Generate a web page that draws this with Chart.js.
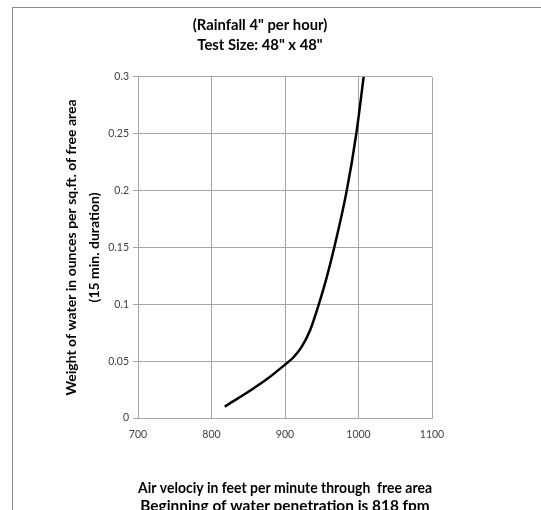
<!DOCTYPE html>
<html>
<head>
<meta charset="utf-8">
<script src="https://cdn.jsdelivr.net/npm/chart.js@4"></script>
<style>
  body { margin: 0; background: #fff; overflow: hidden; }
  #frame { position: absolute; left: 12px; top: 7px; width: 600px; height: 600px; border: 1px solid #8c8c8c; }
  #wrap { position: absolute; left: 0; top: 0; width: 541px; height: 530px; }
</style>
</head>
<body>
<div id="frame"></div>
<div id="wrap"><canvas id="myChart" width="541" height="530"></canvas></div>
<script>
// 공기 속도 (fpm)
const velocity = [818, 857, 875, 901, 911, 923, 934, 946, 956, 967, 984, 997, 1007];
// 물 무게 (oz / sq.ft)
const weight = [0.01, 0.026, 0.034, 0.0475, 0.053, 0.063, 0.077, 0.1, 0.122, 0.15, 0.2, 0.25, 0.3];

const xTicks = [700, 800, 900, 1000, 1100];
const yTicks = [0, 0.05, 0.1, 0.15, 0.2, 0.25, 0.3];

const chartTitle = ['(Rainfall 4" per hour)', 'Test Size: 48" x 48"'];
const xTitle = ['Air velociy in feet per minute through  free area', 'Beginning of water penetration is 818 fpm'];
const yTitle = ['Weight of water in ounces per sq.ft. of free area', '(15 min. duration)'];

let points = [];
for (let i = 0; i < velocity.length; i++) {
  points.push({ x: velocity[i], y: weight[i] });
}

const fontName = 'Lato, "Open Sans", sans-serif';
const gridColor = '#a6a6a6';

const ctx = document.getElementById('myChart');

new Chart(ctx, {
  type: 'scatter',
  data: {
    datasets: [{
      data: points,
      showLine: true,
      borderColor: '#000',
      borderWidth: 2.5,
      pointRadius: 0,
      cubicInterpolationMode: 'monotone'
    }]
  },
  options: {
    responsive: false,
    animation: false,
    layout: { padding: { left: 0, right: 21, top: 0, bottom: 0 } },
    plugins: {
      legend: { display: false },
      tooltip: { enabled: false },
      title: {
        display: true,
        text: chartTitle,
        color: '#000',
        font: { family: fontName, size: 14.8, weight: 'bold', lineHeight: 1.35 },
        padding: { top: 15, bottom: 22 }
      }
    },
    scales: {
      x: {
        type: 'linear',
        min: 700,
        max: 1100,
        afterBuildTicks: s => { s.ticks = xTicks.map(v => ({ value: v })); },
        afterFit: s => { s.height = 112; },
        border: { color: gridColor, width: 1 },
        grid: { color: gridColor, drawTicks: false },
        ticks: { color: '#404040', font: { family: fontName, size: 10.5 }, padding: 10, callback: v => String(v) },
        title: {
          display: true,
          text: xTitle,
          color: '#000',
          font: { family: fontName, size: 15.4, weight: 'bold', lineHeight: 1.23 },
          padding: { top: 0, bottom: 14 }
        }
      },
      y: {
        min: 0,
        max: 0.3,
        afterBuildTicks: s => { s.ticks = yTicks.map(v => ({ value: v })); },
        afterFit: s => { s.width = 138; },
        border: { color: gridColor, width: 1 },
        grid: { color: gridColor, tickLength: 5 },
        ticks: { color: '#404040', font: { family: fontName, size: 10.5 }, padding: 4, callback: v => String(v) },
        title: {
          display: true,
          text: yTitle,
          color: '#000',
          font: { family: fontName, size: 14, weight: 'bold', lineHeight: 1.64 },
          padding: { top: 60, bottom: 0 }
        }
      },
      // 오른쪽 여백용 빈 축
      right: {
        position: 'right',
        display: true,
        afterFit: s => { s.width = 88; },
        border: { display: false },
        grid: { display: false, drawTicks: false },
        ticks: { display: false }
      }
    }
  }
});
</script>
</body>
</html>
